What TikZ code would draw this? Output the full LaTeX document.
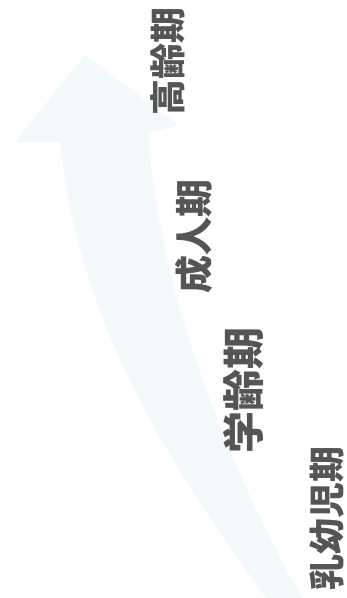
\documentclass[tikz,border=0pt]{standalone}
\usepackage{fontspec}
\newfontfamily\jp{Noto Sans CJK JP}
\definecolor{arrowfill}{RGB}{241,249,251}
\definecolor{labelgray}{RGB}{85,85,85}
\begin{document}
\begin{tikzpicture}[x=1pt,y=-1pt,
  stage/.style={rotate=90,inner sep=0pt,text=labelgray,font=\jp\bfseries}]
\useasboundingbox (0,0) rectangle (346,598);
\fill[white] (0,0) rectangle (346,598);
% growth arrow
\fill[arrowfill] (85,55) -- (178,125) -- (148,133)
  .. controls (160,300) and (230,470) .. (302,598)
  -- (266,598)
  .. controls (190,490) and (80,340) .. (60,142)
  -- (15,142) -- cycle;
% labels
\node[stage,font=\jp\bfseries\fontsize{36}{36}\selectfont] (old) at (168,61) {高齢期};
\node[stage,font=\jp\bfseries\fontsize{38}{38}\selectfont] (adult) at (194,236) {成人期};
\node[stage,font=\jp\bfseries\fontsize{42}{42}\selectfont] (school) at (243,390) {学齢期};
\node[stage,font=\jp\bfseries\fontsize{36}{36}\selectfont] (infant) at (327,518) {乳幼児期};
\end{tikzpicture}
\end{document}
